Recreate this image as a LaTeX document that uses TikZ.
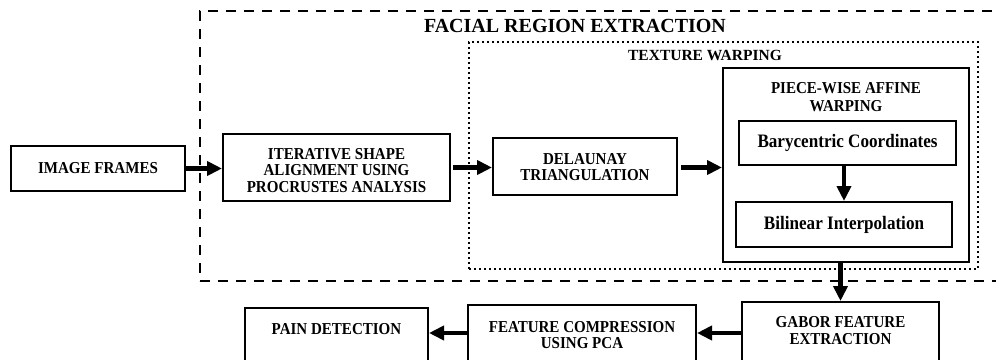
\documentclass[tikz,border=0pt]{standalone}
\usepackage{fontspec}
\setmainfont{Liberation Serif}
\newfontfamily\narrowserif[FakeStretch=0.9]{Liberation Serif}
\usetikzlibrary{arrows.meta}
\newcommand\fcaps{\narrowserif\fontsize{16.7}{16.3}\selectfont\bfseries}
\newcommand\fcapswide{\narrowserif\fontsize{16.7}{17.4}\selectfont\bfseries}
\newcommand\fmixed{\narrowserif\fontsize{19}{21}\selectfont\bfseries}
\newcommand\fgroup{\fontsize{15.5}{17}\selectfont\bfseries}
\newcommand\ftitle{\fontsize{20}{22}\selectfont\bfseries}
\tikzset{
  box/.style={draw, line width=2pt, rectangle, inner sep=0pt, align=center, font=\fcaps},
  subbox/.style={box, font=\fmixed},
  lbl/.style={anchor=center, align=center, inner sep=0pt, font=\fcaps},
  arr/.style={line width=4.5pt, -{Triangle[length=15pt,width=14pt]}},
  groupdash/.style={draw, line width=2.2pt, dash pattern=on 10pt off 8pt, inner sep=0pt},
  groupdot/.style={draw, line width=1.8pt, dash pattern=on 1.8pt off 3.2pt, inner sep=0pt},
}
\begin{document}
\begin{tikzpicture}[x=1pt, y=-1pt]
  \useasboundingbox (0,0) rectangle (996,359);
  \clip (0,0) rectangle (996,359);

  % grouping frames
  \node (fre) [groupdash, minimum width=810pt, minimum height=270pt,
    label={[lbl, font=\ftitle, xshift=-30pt, yshift=-16pt]north:FACIAL REGION EXTRACTION}]
    at (605,146) {};
  \node (tw) [groupdot, minimum width=509pt, minimum height=227pt,
    label={[lbl, font=\fgroup, xshift=-18.5pt, yshift=-14pt]north:TEXTURE WARPING}]
    at (723.5,155.5) {};

  % main row
  \node (img) [box, minimum width=174pt, minimum height=45pt] at (98,168.5) {IMAGE FRAMES};
  \node (isa) [box, minimum width=227pt, minimum height=67pt,
    label={[lbl, yshift=-37.5pt]north:ITERATIVE SHAPE\\ALIGNMENT USING\\PROCRUSTES ANALYSIS}]
    at (336.5,167.5) {};
  \node (del) [box, minimum width=184pt, minimum height=57pt,
    label={[lbl, yshift=-30pt]north:DELAUNAY\\TRIANGULATION}]
    at (585,166.5) {};

  % piece-wise affine warping block
  \node (pwa) [box, minimum width=246pt, minimum height=194pt,
    label={[lbl, font=\fcapswide, yshift=-30pt]north:PIECE-WISE AFFINE\\WARPING}]
    at (846,165) {};
  \node (bary) [subbox, minimum width=217pt, minimum height=44pt] at (847.5,143) {Barycentric Coordinates};
  \node (bil) [subbox, minimum width=216pt, minimum height=45pt] at (844,224.5) {Bilinear Interpolation};

  % lower row (boxes run past the lower edge)
  \node (gab) [box, minimum width=197pt, minimum height=73pt,
    label={[lbl, yshift=-29.5pt]north:GABOR FEATURE\\EXTRACTION}]
    at (840.5,338.5) {};
  \node (fc) [box, minimum width=228pt, minimum height=70pt,
    label={[lbl, yshift=-31pt]north:FEATURE COMPRESSION\\USING PCA}]
    at (582,340) {};
  \node (pd) [box, minimum width=183pt, minimum height=70pt,
    label={[lbl, yshift=-22pt]north:PAIN DETECTION}]
    at (336.5,343) {};

  % connectors
  \draw[arr] (img.east) -- (img.east -| isa.west);
  \draw[arr] ([xshift=2pt]isa.east) -- (isa.east -| del.west);
  \draw[arr] ([xshift=3pt]del.east |- isa.east) -- (isa.east -| pwa.west);
  \draw[arr] (bil.north |- bary.south) -- (bil.north);
  \draw[arr] (pwa.south -| gab.north) -- (gab.north);
  \coordinate (row) at (0,333);
  \draw[arr] (gab.west |- row) -- (fc.east |- row);
  \draw[arr] (fc.west |- row) -- (pd.east |- row);
\end{tikzpicture}
\end{document}
